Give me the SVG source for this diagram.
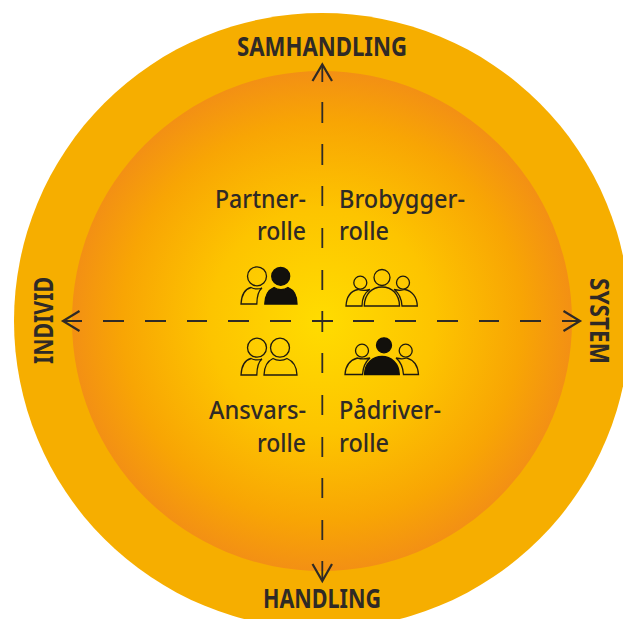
<svg xmlns="http://www.w3.org/2000/svg" width="623" height="619" viewBox="0 0 623 619">
<style>
.t{font-family:"Noto Sans","Liberation Sans",sans-serif;fill:#2f2a26;font-size:25px;font-weight:500}
.b{font-weight:700;font-size:26px}
.ax{fill:none;stroke:#2f2a26;stroke-width:1.8}
.ah{fill:none;stroke:#2f2a26;stroke-width:2.2}
.o{fill:none;stroke:#1e1a10;stroke-width:1.3}
.f{fill:#12100c;stroke:#12100c;stroke-width:1.3}
</style>
<defs>
<radialGradient id="g" gradientUnits="userSpaceOnUse" cx="322" cy="321" r="250">
<stop offset="0" stop-color="#ffdc00"/>
<stop offset="0.45" stop-color="#fdc400"/>
<stop offset="0.8" stop-color="#f8a504"/>
<stop offset="1" stop-color="#f39014"/>
</radialGradient>
</defs>
<g id="outer"><circle cx="322" cy="321" r="308" fill="#f6ae00"/></g>
<g id="inner"><circle cx="322" cy="321" r="250" fill="url(#g)"/></g>
<g id="connectors">
<path class="ax" d="M322.300 65V82M322.300 102V123M322.300 144V165M322.300 186V206M322.300 228V248M322.300 270V290M322.300 311V332M322.300 353V373M322.300 395V415M322.300 437V457M322.300 478V498M322.300 520V540M322.300 561V580"/>
<path class="ax" d="M63 321H82M103 321H124M145 321H166M187 321H207M228 321H249M270 321H291M312 321H333M353 321H374M395 321H416M437 321H458M479 321H499M520 321H541M562 321H579"/>
<path class="ah" d="M312.500 81L322.300 64.500L332 81"/>
<path class="ah" d="M312.500 564L322.300 581L332 564"/>
<path class="ah" d="M79.500 311L63 321L79.500 331"/>
<path class="ah" d="M563.500 311L580 321L563.500 331"/>
</g>
<g id="samhandling"><text class="t b" x="237" y="56" textLength="170" lengthAdjust="spacingAndGlyphs">SAMHANDLING</text></g>
<g id="handling"><text class="t b" x="263" y="608" textLength="118" lengthAdjust="spacingAndGlyphs">HANDLING</text></g>
<g id="individ"><text class="t b" transform="translate(53 364) rotate(-90)" textLength="87" lengthAdjust="spacingAndGlyphs">INDIVID</text></g>
<g id="system"><text class="t b" transform="translate(590 278) rotate(90)" textLength="86" lengthAdjust="spacingAndGlyphs">SYSTEM</text></g>
<g id="partner">
<text class="t" x="215" y="208" textLength="91" lengthAdjust="spacingAndGlyphs">Partner-</text>
<text class="t" x="257" y="240" textLength="49" lengthAdjust="spacingAndGlyphs">rolle</text>
<circle class="o" cx="257" cy="276.300" r="9.500"/>
<path class="o" d="M241 304C241.500 295 245 289 251 287.500C254 289 258 289.500 262 288C258 291 257 297 256.800 304Z"/>
<circle class="f" cx="280.700" cy="276.300" r="9"/>
<path class="f" d="M264.800 304C265 295 268 290 274 287.500C278 290.500 284 290.500 288 287.500C294 290 297 295 297 304Z"/>
</g>
<g id="brobygger">
<text class="t" x="339" y="208" textLength="126" lengthAdjust="spacingAndGlyphs">Brobygger-</text>
<text class="t" x="339" y="240" textLength="50" lengthAdjust="spacingAndGlyphs">rolle</text>
<circle class="o" cx="360.300" cy="282.700" r="6.500"/>
<circle class="o" cx="382" cy="277.500" r="8"/>
<circle class="o" cx="403" cy="282.700" r="6.500"/>
<path class="o" d="M346 306C346.500 297 351 291 358 289.500C361 290.500 366 290.500 370 289.500C364 293 362 298 362 306Z"/>
<path class="o" d="M364.300 306C364.500 294 372 287 382 287C392 287 399.300 294 399.500 306Z"/>
<path class="o" d="M417.300 306C417 297 412 291 405 289.500C402 290.500 398 290.500 394 289.500C399 293 401.500 298 402 306Z"/>
</g>
<g id="ansvar">
<text class="t" x="209" y="419" textLength="97" lengthAdjust="spacingAndGlyphs">Ansvars-</text>
<text class="t" x="257" y="452" textLength="49" lengthAdjust="spacingAndGlyphs">rolle</text>
<circle class="o" cx="257" cy="347.700" r="9.500"/>
<circle class="o" cx="280" cy="347.700" r="9.500"/>
<path class="o" d="M241 375C241.500 366 245 360 251 358.500C254 360 258 360.500 262 359C258 362 257 368 256.800 375Z"/>
<path class="o" d="M264 375C264.300 366 267.500 361 273 358.500C277 361 283 361 287 358.500C293 361 296.800 366 297 375Z"/>
</g>
<g id="padriver">
<text class="t" x="339" y="419" textLength="102" lengthAdjust="spacingAndGlyphs">Pådriver-</text>
<text class="t" x="339" y="452" textLength="50" lengthAdjust="spacingAndGlyphs">rolle</text>
<circle class="o" cx="362" cy="350.700" r="6.500"/>
<circle class="f" cx="384" cy="345.300" r="7.500"/>
<circle class="o" cx="405.700" cy="350.700" r="6.500"/>
<path class="o" d="M345 374.500C345.500 366 350 360 357.500 358C361 359 366 359 370 358C365 362 363 367 362.500 374.500Z"/>
<path class="f" d="M364.500 374.500C364.700 363 373 356.500 382 356.500C391 356.500 399 363 399.300 374.500Z"/>
<path class="o" d="M418.500 374.500C418 366 414 360 407 358C404 359 400 359 396 358C401 362 403 367 403.500 374.500Z"/>
</g>
</svg>
